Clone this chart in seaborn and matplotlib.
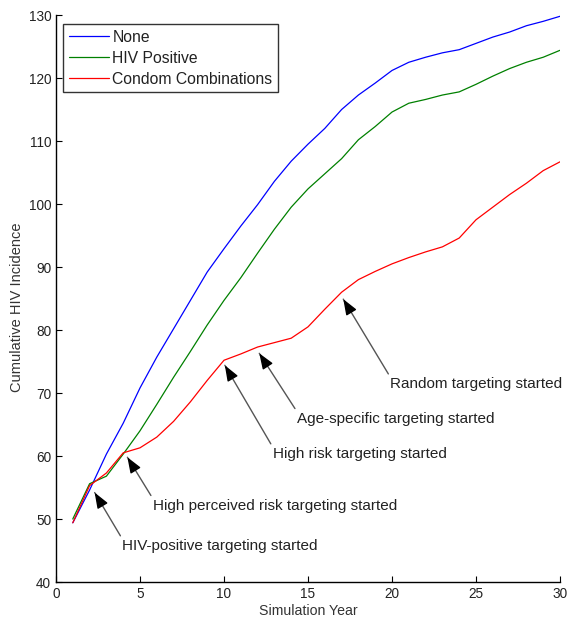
import numpy as np
import pandas as pd
import matplotlib
matplotlib.use("Agg")
import matplotlib.pyplot as plt
import matplotlib.text as mtext
import seaborn as sns

years = list(range(1, 31))
none_vals = [49.4, 54.6, 60.3, 65.2, 70.8, 75.7, 80.2, 84.7, 89.2, 92.9,
             96.5, 99.9, 103.6, 106.8, 109.5, 112.0, 115.0, 117.3, 119.2, 121.2,
             122.5, 123.3, 124.0, 124.5, 125.5, 126.5, 127.3, 128.3, 129.0, 129.8]
hiv_vals = [50.0, 55.6, 56.8, 60.3, 64.0, 68.2, 72.5, 76.6, 80.8, 84.7,
            88.3, 92.2, 96.0, 99.5, 102.4, 104.8, 107.2, 110.2, 112.3, 114.6,
            116.0, 116.6, 117.3, 117.8, 119.0, 120.3, 121.5, 122.5, 123.3, 124.4]
condom_vals = [49.4, 55.3, 57.3, 60.5, 61.3, 63.0, 65.5, 68.6, 72.0, 75.2,
               76.2, 77.3, 78.0, 78.7, 80.5, 83.3, 86.0, 88.0, 89.3, 90.5,
               91.5, 92.4, 93.2, 94.6, 97.5, 99.5, 101.5, 103.3, 105.3, 106.7]
series_names = ["None", "HIV Positive", "Condom Combinations"]
series_colors = ["#0000ff", "#008000", "#ff0000"]

ann_texts = ["HIV-positive targeting started",
             "High perceived risk targeting started",
             "High risk targeting started",
             "Age-specific targeting started",
             "Random targeting started"]
ann_tips = [(2.3, 54.2), (4.25, 59.8), (10.05, 74.4), (12.1, 76.3), (17.1, 84.9)]
ann_text_pos = [(3.95, 45.7), (5.77, 52.1), (12.9, 60.3), (14.35, 65.9), (19.9, 71.4)]

df = pd.DataFrame({
    "Simulation Year": years * 3,
    "Cumulative HIV Incidence": none_vals + hiv_vals + condom_vals,
    "Series": [series_names[0]] * 30 + [series_names[1]] * 30 + [series_names[2]] * 30,
})

sns.set_style("ticks")
plt.rcParams["font.family"] = ["Liberation Sans", "DejaVu Sans"]

fig = plt.figure(figsize=(5.69, 6.21), dpi=100)
ax = fig.add_axes([0.0984, 0.0628, 0.8858, 0.913])

sns.lineplot(data=df, x="Simulation Year", y="Cumulative HIV Incidence", hue="Series",
             palette=dict(zip(series_names, series_colors)), linewidth=0.9, ax=ax)

ax.set_xlim(0, 30)
ax.set_ylim(40, 130)
ax.set_xticks(range(0, 31, 5))
ax.set_yticks(range(40, 131, 10))
ax.tick_params(direction="in", length=4, width=0.8, labelsize=9.8, colors="black",
               labelcolor="#222222")
for s in ["top", "right"]:
    ax.spines[s].set_visible(False)
for s in ["left", "bottom"]:
    ax.spines[s].set_linewidth(1.0)
    ax.spines[s].set_color("black")
ax.set_xlabel("Simulation Year", fontsize=10.2, color="#333333", labelpad=2)
ax.set_ylabel("Cumulative HIV Incidence", fontsize=10.5, color="#333333")
ax.yaxis.set_label_coords(-0.063, 0.485)

leg = ax.legend(loc="upper left", bbox_to_anchor=(0.014, 0.984), borderaxespad=0,
                fontsize=11.3, frameon=True, fancybox=False, handlelength=2.6,
                handletextpad=0.2, borderpad=0.35, labelspacing=0.38)
leg.get_frame().set_edgecolor("black")
leg.get_frame().set_linewidth(1.0)
for t in leg.get_texts():
    t.set_color("#222222")

fig.canvas.draw()
renderer = fig.canvas.get_renderer()
for txt, tip, pos in zip(ann_texts, ann_tips, ann_text_pos):
    an = ax.annotate(txt, xy=tip, xytext=pos, ha="left", va="center", fontsize=11,
                     color="#222222",
                     arrowprops=dict(arrowstyle="-", color="#555555", lw=1.0,
                                     relpos=(0, 1), shrinkA=0, shrinkB=0))
    # black arrow head along the same line
    fig.canvas.draw()
    bb = mtext.Text.get_window_extent(an, renderer)
    tail_px = np.array([bb.x0, bb.y1])
    tip_px = ax.transData.transform(tip)
    d = tail_px - tip_px
    d = d / np.hypot(*d)
    head_start = tip_px + d * 14
    hs = ax.transData.inverted().transform(head_start)
    ax.annotate("", xy=tip, xytext=tuple(hs),
                arrowprops=dict(arrowstyle="-|>,head_length=0.95,head_width=0.36",
                                fc="black", ec="black", lw=1.0,
                                shrinkA=0, shrinkB=0))

fig.savefig("out.png", dpi=100)
